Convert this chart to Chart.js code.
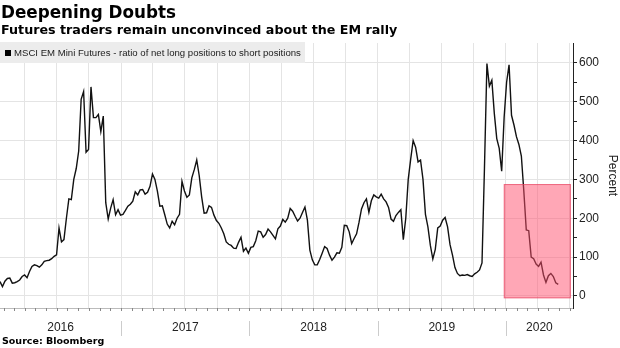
<!DOCTYPE html>
<html>
<head>
<meta charset="utf-8">
<script src="https://cdn.jsdelivr.net/npm/chart.js@4"></script>
<style>
    body { margin: 0; background: #fff; }
    #wrap { position: relative; width: 620px; height: 348px; overflow: hidden; }
    #myChart { position: absolute; left: 0; top: 0; }
    .title { position: absolute; left: 1px; top: 2px; font: bold 16.8px "DejaVu Sans"; color: #000; }
    .subtitle { position: absolute; left: 1px; top: 22px; font: bold 12.7px "DejaVu Sans"; color: #000; }
    .legend { position: absolute; left: 0; top: 42px; width: 305px; height: 21px; background: #ececec; font: 9.6px "Liberation Sans"; color: #222; line-height: 21px; }
    .legend i { display: inline-block; width: 6px; height: 6px; background: #000; margin: 0 3px 0 5px; vertical-align: 0px; }
    .source { position: absolute; left: 2px; top: 335px; font: bold 9.5px "DejaVu Sans"; color: #000; }
</style>
</head>
<body>
<div id="wrap">
    <canvas id="myChart" width="620" height="348"></canvas>
    <div class="title">Deepening Doubts</div>
    <div class="subtitle">Futures traders remain unconvinced about the EM rally</div>
    <div class="legend"><i></i>MSCI EM Mini Futures - ratio of net long positions to short positions</div>
    <div class="source">Source: Bloomberg</div>
</div>
<script>
//weekly readings, first one on 22 Jan 2016
const seriesLabel = 'MSCI EM Mini Futures - ratio of net long positions to short positions'
const firstWeek = Date.UTC(2016, 0, 22)
const ratio = [
    37, 24, 38, 45, 46, 33, 34, 37, 41, 50, 54, 47, 63, 76, 80, 78, 74, 80, 89, 91,
    92, 96, 102, 106, 175, 139, 145, 200, 250, 248, 300, 328, 373, 506, 526, 370, 377, 538, 459, 459,
    467, 423, 463, 240, 198, 226, 248, 209, 222, 208, 210, 220, 231, 236, 244, 268, 260, 273, 274, 262,
    267, 282, 314, 300, 270, 231, 232, 209, 185, 175, 192, 183, 200, 210, 295, 270, 254, 260, 304, 325,
    350, 310, 255, 213, 214, 232, 228, 208, 194, 187, 175, 160, 139, 133, 130, 123, 122, 138, 151, 115,
    123, 110, 125, 127, 142, 167, 165, 151, 158, 172, 165, 156, 147, 173, 180, 197, 190, 200, 225, 218,
    205, 193, 200, 215, 229, 195, 118, 93, 80, 80, 94, 110, 127, 122, 105, 92, 100, 111, 110, 125,
    182, 181, 165, 135, 148, 160, 190, 224, 240, 250, 215, 245, 260, 255, 252, 262, 250, 242, 228, 198,
    192, 207, 215, 222, 145, 200, 300, 352, 400, 383, 345, 350, 300, 210, 178, 130, 95, 120, 175, 180,
    195, 202, 178, 132, 105, 73, 58, 52, 54, 53, 55, 52, 50, 57, 61, 67, 85, 330, 598, 540,
    555, 470, 405, 380, 321, 460, 550, 595, 465, 440, 410, 390, 360, 270, 170, 168, 100, 96, 82, 76,
    87, 54, 35, 52, 58, 50, 34, 30
]
const yearLabels = ['2016', '2017', '2018', '2019', '2020']
const yTicks = [0, 50, 100, 150, 200, 250, 300, 350, 400, 450, 500, 550, 600]
//highlighted stretch of 2020
const boxFrom = Date.UTC(2019, 11, 26)
const boxTo = Date.UTC(2020, 6, 4)
const boxLow = -6
const boxHigh = 288

const WEEK = 7 * 24 * 3600 * 1000
const points = ratio.map((v, i) => ({ x: firstWeek + i * WEEK, y: v }))

const quarterTicks = []
for (let y = 2016; y <= 2020; y++) {
    for (let m = 0; m < 12; m += 3) quarterTicks.push({ value: Date.UTC(y, m, 1) })
}

const xAxisPlugin = {
    id: 'yearAxis',
    afterDraw: (chart) => {
        const { ctx, chartArea } = chart
        const x = chart.scales.x
        const bottom = chartArea.bottom
        ctx.save()
        //monthly tick marks
        ctx.strokeStyle = '#888'
        ctx.lineWidth = 1
        for (let y = 2016; y <= 2020; y++) {
            for (let m = 0; m < 12; m++) {
                const v = Date.UTC(y, m, 1)
                if (v < x.min || v > x.max) continue
                const px = Math.round(x.getPixelForValue(v)) + 0.5
                ctx.beginPath()
                ctx.moveTo(px, bottom)
                ctx.lineTo(px, bottom + 3)
                ctx.stroke()
            }
        }
        //year separators and labels
        ctx.fillStyle = '#222'
        ctx.font = '12px "Liberation Sans"'
        ctx.textAlign = 'center'
        ctx.textBaseline = 'middle'
        yearLabels.forEach(label => {
            const yr = parseInt(label)
            const start = Math.max(Date.UTC(yr, 0, 1), x.min)
            const end = Math.min(Date.UTC(yr + 1, 0, 1), x.max)
            const a = x.getPixelForValue(start)
            const b = x.getPixelForValue(end)
            ctx.fillText(label, (a + b) / 2, bottom + 20)
            if (Date.UTC(yr, 0, 1) > x.min) {
                ctx.strokeStyle = '#ccc'
                const px = Math.round(a) + 0.5
                ctx.beginPath()
                ctx.moveTo(px, bottom + 13)
                ctx.lineTo(px, bottom + 28)
                ctx.stroke()
            }
        })
        ctx.restore()
    }
}

const boxPlugin = {
    id: 'highlightBox',
    afterDatasetsDraw: (chart) => {
        const { ctx } = chart
        const x = chart.scales.x
        const y = chart.scales.y
        const l = x.getPixelForValue(boxFrom)
        const r = x.getPixelForValue(boxTo)
        const t = y.getPixelForValue(boxHigh)
        const b = y.getPixelForValue(boxLow)
        ctx.save()
        ctx.fillStyle = 'rgba(255, 80, 110, 0.5)'
        ctx.fillRect(l, t, r - l, b - t)
        ctx.strokeStyle = 'rgba(225, 60, 90, 0.6)'
        ctx.lineWidth = 1
        ctx.strokeRect(l + 0.5, t + 0.5, r - l - 1, b - t - 1)
        ctx.restore()
    }
}

const ctx = document.getElementById('myChart')
const myLineChart = new Chart(ctx, {
    type: 'line',
    data: {
        datasets: [{
            label: seriesLabel,
            data: points,
            borderColor: '#111',
            borderWidth: 1.4,
            pointRadius: 0,
            tension: 0,
            fill: false
        }]
    },
    options: {
        responsive: false,
        animation: false,
        layout: { padding: { top: 43, left: 0, right: 0, bottom: 0 } },
        plugins: {
            legend: { display: false },
            tooltip: { enabled: false }
        },
        scales: {
            x: {
                type: 'linear',
                min: firstWeek,
                max: Date.UTC(2020, 6, 10),
                afterBuildTicks: (axis) => { axis.ticks = quarterTicks.filter(t => t.value > axis.min && t.value < axis.max) },
                afterFit: (axis) => { axis.height = 40 },
                ticks: { display: false },
                grid: { color: '#e4e4e4', drawTicks: false },
                border: { color: '#bbb' }
            },
            y: {
                position: 'right',
                min: -31,
                max: 651,
                afterBuildTicks: (axis) => { axis.ticks = yTicks.map(v => ({ value: v })) },
                afterFit: (axis) => { axis.width = 47 },
                ticks: {
                    color: '#222',
                    font: { family: 'Liberation Sans', size: 12 },
                    padding: 2,
                    callback: (v) => v % 100 === 0 ? v : ''
                },
                grid: {
                    color: (c) => c.tick && c.tick.value % 100 === 0 ? '#e4e4e4' : 'rgba(0,0,0,0)',
                    tickLength: 4,
                    tickColor: '#222'
                },
                border: { color: '#222' },
                title: {
                    display: true,
                    text: 'Percent',
                    color: '#222',
                    font: { family: 'Liberation Sans', size: 12 },
                    padding: 0
                }
            }
        }
    },
    plugins: [xAxisPlugin, boxPlugin]
})
</script>
</body>
</html>
